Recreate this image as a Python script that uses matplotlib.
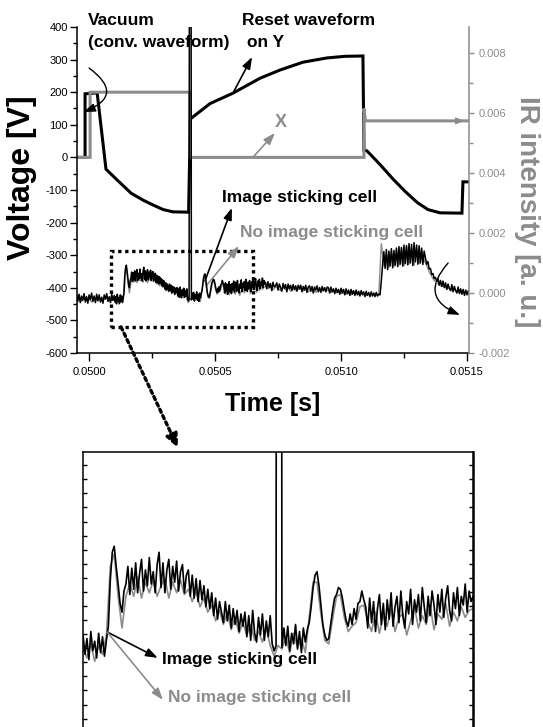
import numpy as np
import matplotlib.pyplot as plt
from matplotlib.patches import Rectangle
from matplotlib.ticker import MultipleLocator, FixedLocator

plt.rcParams['font.family'] = ['Liberation Sans', 'DejaVu Sans']
plt.rcParams['axes.unicode_minus'] = False

GRAY = '#8c8c8c'

# drive waveforms: time [s], voltage [V]
y_wave_t = [0.049952, 0.049984, 0.049984, 0.050032, 0.050067, 0.050111, 0.050167,
            0.050214, 0.050254, 0.050294, 0.050333, 0.050395, 0.050402, 0.050480,
            0.050571, 0.050679, 0.050758, 0.050849, 0.050944, 0.051016, 0.051087,
            0.051091, 0.051103, 0.051155, 0.051206, 0.051254, 0.051302, 0.051345,
            0.051393, 0.051480, 0.051484, 0.051508]
y_wave_v = [0, 0, 195, 198, -36, -69, -110, -131, -146, -160, -167, -168, 118, 165,
            197, 243, 268, 292, 305, 310, 311, 22, 20, -22, -66, -104, -138, -160,
            -170, -171, -75, -75]

x_wave_t = [0.049952, 0.050004, 0.050004, 0.050400, 0.050400, 0.051091, 0.051091,
            0.051097, 0.051508]
x_wave_v = [0, 0, 200, 200, 0, 0, 150, 112, 112]

# IR intensity in 1e-5 a.u.
# image sticking cell: from 0.04995 s every 5 us, from 0.0501 s every 3 us,
# from 0.0507 s every 5 us
ir_cell_pre = [-8, -28, -4, -32, -10, -24, -2, -30, -12, -34, -6, -22, 0, -28, -10,
               -32, -4, -26, -6, -30, -14, -34, -6, -20, -2, -28, -12, -32, -4, -24]
ir_cell_mid = [-8, -30, -12, -36, -4, -26, -15, -34, -6, -28, -10, -32, -14,
               2, 55, 86, 93, 70, 50, 28, 18, 42, 50,
               70, 38, 68, 44, 74, 40, 62, 78, 42, 66, 48, 80, 50, 64, 40, 72,
               86, 46, 74, 40, 66, 78, 44, 70, 52, 76, 42, 64, 72, 40, 60,
               66, 36, 60, 34, 56, 30, 54, 32, 48, 24, 44, 22,
               40, 14, 34, 10, 30, 18, 6, 30, 8, 26, 0, 22, 4, 20, -4, 16, 2,
               18, -10, 14, -14, 20, -6, -16, 12, -8, 16, -14, 8, -10, 14, -18, -26, -20,
               3000, 3000,
               -22, 0, -20, 2, -26, -6, -18, 4, -24, -4, -28, 0, -16, -2,
               6, 24, 46, 60, 64, 48, 26, 4, -8, -14, -12, 4, 20, 34, 38, 46, 44, 34,
               20, 8, 2, 16, 4, 22, 10, 28, 30, 42, 32,
               24, 0, 34, 6, 30, -4, 22, 38, 4, 28, -2, 32, 10, 40, 2, 24, 36, 6, 42,
               14, 0, 30, 16, 44, 4, 32, 18, 38, 8, 46, 24, 6, 36, 14, 42, 26, 4, 38,
               18, 44, 12, 34, 48, 20, 8, 40, 22, 46, 14, 36, 26, 50, 18, 42, 30]
ir_cell_post = [36, 14, 38, 18, 32, 8, 36, 20, 24, 34, 10, 30, 18, 6, 32, 16, 28, 4,
                30, 14, 26, 8, 28, 12, 24, 6, 26, 14,
                26, 4, 22, 10, 26, 2, 20, 24, 6, 22, 0, 20, 10, 24, 4, 18, 2, 22, 8,
                18, 4, 20,
                18, 0, 20, 4, 14, -2, 16, 2, 12, -4, 16, 0, 12, -6, 14, -2, 10, -8, 12,
                -4, 8, -8, 10, -6, 6, -10, 8, -6, 4, -12, 6, -8, 2, -12, 4, -10, 0, -12,
                2, -10, -4, -6,
                40,
                95, 138, 82, 145, 78, 140, 90, 148, 84, 142, 92, 150, 88, 155, 96, 152,
                90, 160, 98, 158, 94, 165, 100, 162, 92, 168, 104, 160, 96, 158, 100,
                150, 95, 140,
                118, 96, 105, 80, 82, 62, 65, 48, 52, 38,
                48, 26, 42, 22, 40, 18, 34, 12, 30, 16, 8, 28, 4, 22, 8, 0, 20, -2, 14,
                -4, 12, -8, 10, -6, 8, -8, 2]

# no image sticking cell: every 10 us, every 6 us from 0.0501 s, every 10 us from 0.0507 s
ir_ref_pre = [-22, -18, -28, -15, -24, -20, -30, -17, -25, -19, -27, -21, -16, -26, -20]
ir_ref_mid = [-22, -34, -18, -38, -20, -30,
              -8, 70, 84, 36, 0, 36,
              50, 36, 58, 34, 52, 40, 54, 36,
              48, 56, 34, 52, 40, 54, 38,
              44, 30, 42, 24, 34, 18,
              26, 8, 20, 4, 18, -2, 12, -6, 6,
              -8, 4, -14, -4, -16, 0, -20, -32,
              -20,
              -24, -10, -28, -6, -22, -12, -28,
              12, 52, 52, 16, -14, -18, 10, 36, 38, 12, -4, 2, 6, 24, 26,
              8, -4, 18, -6, 14, 2, 22, -4, 12, 16, -8, 8, 24, 0, 14, 4, 26, -2, 16,
              10, 28, 2, 18, 8, 24, 12, 20]
ir_ref_post = [22, 14, 24, 10, 20, 16, 8, 18, 12, 20, 6, 14, 10, 12,
               14, 8, 12, 4, 14, 10, 2, 12, 6, 8, 10,
               8, 2, 6, 0, 4, -2, 2, -4, 0, -6, 2, -2, -6, 0, -4, -8, -2, -5, -3, -6, -4,
               165,
               90, 130, 84, 138, 88, 144, 92, 150, 90, 156, 96, 150, 92, 148, 98, 140,
               110, 92, 70, 55, 42, 34,
               28, 22, 24, 14, 16, 8, 12, 4, 6, 0, 2, -2, 0]

t_cell = np.concatenate([0.04995 + 5e-6 * np.arange(len(ir_cell_pre)),
                         0.0501 + 3e-6 * np.arange(len(ir_cell_mid)),
                         0.0507 + 5e-6 * np.arange(len(ir_cell_post))])
ir_cell = np.array(ir_cell_pre + ir_cell_mid + ir_cell_post) * 1e-5

t_ref = np.concatenate([0.04995 + 1e-5 * np.arange(len(ir_ref_pre)),
                        0.0501 + 6e-6 * np.arange(len(ir_ref_mid)),
                        0.0507 + 1e-5 * np.arange(len(ir_ref_post))])
ir_ref = np.array(ir_ref_pre + ir_ref_mid + ir_ref_post) * 1e-5


def fpos(x, y):
    # pixel position (from top left) to figure fraction
    return x / 543, 1 - y / 727


fig = plt.figure(figsize=(5.43, 7.27), dpi=100)

ax = fig.add_axes([0.1418, 0.5144, 0.7219, 0.4485])
ax2 = ax.twinx()

ax.plot(y_wave_t, y_wave_v, color='black', lw=2.2, solid_joinstyle='miter')
ax.plot(x_wave_t, x_wave_v, color=GRAY, lw=2.2, solid_joinstyle='miter')

ax2.plot(t_ref, ir_ref, color=GRAY, lw=1.0)
ax2.plot(t_cell, ir_cell, color='black', lw=1.1)

ax.set_xlim(0.049952, 0.051508)
ax.set_ylim(-600, 400)
ax2.set_ylim(-0.002, 0.00887)

ax.set_xticks([0.0500, 0.0505, 0.0510, 0.0515])
ax.set_xticklabels(['0.0500', '0.0505', '0.0510', '0.0515'])
ax.xaxis.set_minor_locator(MultipleLocator(0.00025))
ax.set_yticks(range(-600, 401, 100))
ax.yaxis.set_minor_locator(MultipleLocator(50))
ax2.set_yticks([-0.002, 0.0, 0.002, 0.004, 0.006, 0.008])
ax2.set_yticklabels(['-0.002', '0.000', '0.002', '0.004', '0.006', '0.008'])
ax2.yaxis.set_minor_locator(MultipleLocator(0.001))

for a in (ax, ax2):
    a.spines['top'].set_visible(False)
ax.spines['right'].set_visible(False)
ax.spines['left'].set_linewidth(1.1)
ax.spines['bottom'].set_linewidth(1.1)
ax2.spines['left'].set_visible(False)
ax2.spines['bottom'].set_visible(False)
ax2.spines['right'].set_color(GRAY)
ax2.spines['right'].set_linewidth(1.1)

ax.tick_params(axis='y', which='major', direction='out', length=5, width=1, pad=1.5, labelsize=8)
ax.tick_params(axis='y', which='minor', direction='out', length=3, width=1)
ax.tick_params(axis='x', which='major', direction='out', length=6, width=1, pad=4, labelsize=8)
ax.tick_params(axis='x', which='minor', direction='out', length=3.5, width=1)
ax2.tick_params(axis='y', which='major', direction='out', length=3.5, width=1, pad=3.5,
                labelsize=8, colors=GRAY)
ax2.tick_params(axis='y', which='minor', direction='out', length=3, width=1, colors=GRAY)

# axis titles
fig.text(*fpos(22, 178), 'Voltage [V]', rotation=90, ha='center', va='center',
         fontsize=23, fontweight='bold')
fig.text(*fpos(273, 404), 'Time [s]', ha='center', va='center',
         fontsize=18, fontweight='bold')
fig.text(*fpos(527, 212), 'IR intensity [a. u.]', rotation=270, ha='center', va='center',
         fontsize=20, fontweight='bold', color=GRAY)

# waveform labels
fig.text(*fpos(88, 25), 'Vacuum', fontsize=12.5, fontweight='bold', va='baseline')
fig.text(*fpos(88, 47), '(conv. waveform)', fontsize=12.5, fontweight='bold', va='baseline')
fig.text(*fpos(242, 25), 'Reset waveform', fontsize=12.5, fontweight='bold', va='baseline')
fig.text(*fpos(247, 47), 'on Y', fontsize=12.5, fontweight='bold', va='baseline')
ax.text(0.050762, 108, 'X', fontsize=13, fontweight='bold', color=GRAY,
        ha='center', va='center')
ax.text(0.050528, -124, 'Image sticking cell', fontsize=12.5, fontweight='bold',
        ha='left', va='center')
ax.text(0.050599, -231, 'No image sticking cell', fontsize=12.5, fontweight='bold',
        ha='left', va='center', color=GRAY)

head = '-|>,head_length=0.7,head_width=0.25'
ax.annotate('', xy=(0.049978, 139), xytext=(0.05, 274), annotation_clip=False,
            arrowprops=dict(arrowstyle=head, color='black', lw=1, shrinkA=0, shrinkB=0,
                            connectionstyle='arc3,rad=-0.9'))
ax.annotate('', xy=(0.050647, 308), xytext=(0.050571, 197),
            arrowprops=dict(arrowstyle=head, color='black', lw=1.2, shrinkA=0, shrinkB=0))
ax.annotate('', xy=(0.050738, 75), xytext=(0.050651, 1),
            arrowprops=dict(arrowstyle=head, color=GRAY, lw=1.2, shrinkA=0, shrinkB=0))
ax.annotate('', xy=(0.050567, -155), xytext=(0.05046, -379),
            arrowprops=dict(arrowstyle=head, color='black', lw=1.2, shrinkA=0, shrinkB=0))
ax.annotate('', xy=(0.050595, -272), xytext=(0.050468, -391),
            arrowprops=dict(arrowstyle=head, color=GRAY, lw=1.2, shrinkA=0, shrinkB=0))
ax.annotate('', xy=(0.051472, -483), xytext=(0.051425, -324),
            arrowprops=dict(arrowstyle=head, color='black', lw=1, shrinkA=0, shrinkB=0,
                            connectionstyle='arc3,rad=0.7'))
ax.annotate('', xy=(0.051490, 112), xytext=(0.051452, 112),
            arrowprops=dict(arrowstyle='-|>,head_length=0.5,head_width=0.2', color=GRAY,
                            lw=1, shrinkA=0, shrinkB=0))

# zoomed window and pointer to the inset
ax.add_patch(Rectangle((0.050087, -520), 0.000564, 233, fill=False, color='black',
                       lw=2.4, ls=(0, (1, 1.1)), clip_on=False))
ax.annotate('', xy=fpos(178, 448), xycoords='figure fraction',
            xytext=(0.050127, -520), textcoords='data', annotation_clip=False,
            arrowprops=dict(arrowstyle='-|>,head_length=0.8,head_width=0.35',
                            color='black', lw=2.4, ls=(0, (1, 1.1)), shrinkA=0, shrinkB=0))

# inset
axin = fig.add_axes([0.1529, -0.0454, 0.7182, 0.4237])
axin.plot(t_ref, ir_ref, color=GRAY, lw=1.2)
axin.plot(t_cell, ir_cell, color='black', lw=1.2)
axin.set_xlim(0.0501, 0.0507)
axin.set_ylim(-0.0015, 0.002)
axin.set_xticks([])
axin.yaxis.set_major_locator(FixedLocator(np.arange(0.00185, -0.0016, -0.00016)))
axin.tick_params(axis='y', direction='in', length=3, width=1, left=True, right=True,
                 labelleft=False)
for s in axin.spines.values():
    s.set_linewidth(1.1)
axin.spines['right'].set_linewidth(1.8)

axin.annotate('', xy=(0.050215, -0.00034), xytext=(0.050137, -0.000045),
              arrowprops=dict(arrowstyle=head, color='black', lw=1.2, shrinkA=0, shrinkB=0))
axin.annotate('', xy=(0.050223, -0.000817), xytext=(0.050137, -0.000045),
              arrowprops=dict(arrowstyle=head, color=GRAY, lw=1.2, shrinkA=0, shrinkB=0))
axin.text(0.050221, -0.000363, 'Image sticking cell', fontsize=12.5, fontweight='bold',
          ha='left', va='center')
axin.text(0.050231, -0.000795, 'No image sticking cell', fontsize=12.5, fontweight='bold',
          ha='left', va='center', color=GRAY)

plt.savefig('out.png', dpi=100)
